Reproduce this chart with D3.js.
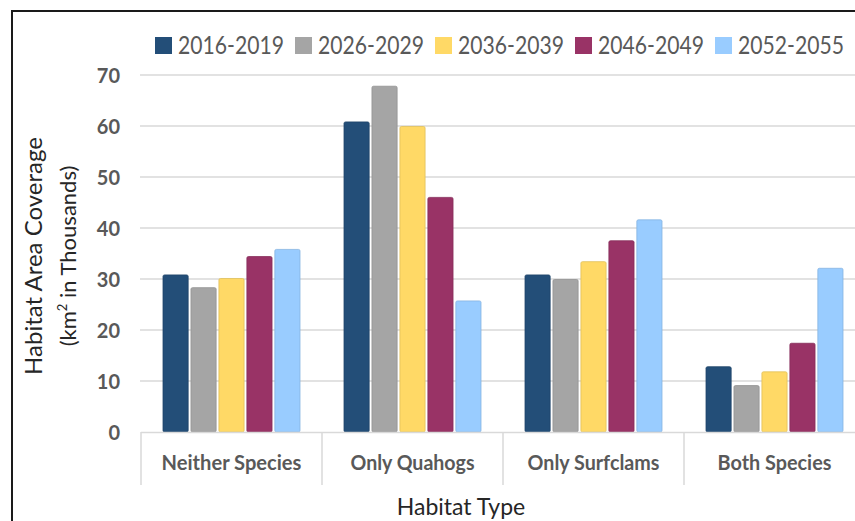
<!DOCTYPE html>
<html>
<head>
<meta charset="utf-8">
<script src="https://cdn.jsdelivr.net/npm/d3@7"></script>
<style>
  html, body { margin: 0; padding: 0; background: #fff; }
  svg { display: block; }
</style>
</head>
<body>
<svg id="chart" width="855" height="521"></svg>
<script>
// Habitat area coverage by habitat type and period
const categories = ["Neither Species", "Only Quahogs", "Only Surfclams", "Both Species"];
const periods = ["2016-2019", "2026-2029", "2036-2039", "2046-2049", "2052-2055"];
const colors = ["#234e78", "#a5a5a5", "#ffd966", "#993366", "#99ccff"];
const values2016 = [30.8, 60.8, 30.8, 12.8];
const values2026 = [28.3, 67.8, 29.9, 9.1];
const values2036 = [30.1, 59.9, 33.4, 11.8];
const values2046 = [34.4, 46.0, 37.5, 17.4];
const values2052 = [35.8, 25.7, 41.6, 32.1];
const yTicks = [0, 10, 20, 30, 40, 50, 60, 70];

const seriesValues = [values2016, values2026, values2036, values2046, values2052];

const FONT = "Lato, 'Open Sans', sans-serif";
const svg = d3.select("#chart");
const W = 855;

// squeeze a text horizontally (around its anchor) to a target width
function condense(sel, widthOf) {
  sel.each(function(d, i) {
    const t = d3.select(this);
    const x = +t.attr("x") || 0, yy = +t.attr("y") || 0;
    const target = typeof widthOf === "function" ? widthOf(d, i) : widthOf;
    const natural = this.getComputedTextLength();
    const s = Math.min(1, target / natural);
    t.attr("x", null).attr("y", null)
     .attr("transform", `translate(${x},${yy}) scale(${s},1)`);
  });
}

// outer frame (runs past the right and bottom edges)
svg.append("rect")
  .attr("x", 12).attr("y", 11)
  .attr("width", 900).attr("height", 600)
  .attr("fill", "#fff")
  .attr("stroke", "#1a1a1a").attr("stroke-width", 2);

const plotLeft = 141, plotRight = 865;
const y = d3.scaleLinear().domain([0, 70]).range([432, 75]);
const x0 = d3.scaleBand().domain(categories).range([plotLeft, plotRight]).padding(0);
const x1 = d3.scaleBand().domain(periods).range([22, 159]).paddingInner(0.1);

// gridlines
svg.append("g")
  .selectAll("line")
  .data(yTicks.filter(t => t > 0))
  .join("line")
  .attr("x1", plotLeft - 1).attr("x2", W)
  .attr("y1", d => y(d)).attr("y2", d => y(d))
  .attr("stroke", "#d9d9d9").attr("stroke-width", 1.5);

// y tick labels
const yAxis = d3.axisLeft(y).tickValues(yTicks).tickSize(0).tickPadding(0);
const gy = svg.append("g").attr("transform", "translate(120,0)").call(yAxis);
gy.select(".domain").remove();
gy.selectAll("text")
  .attr("font-family", FONT)
  .attr("font-weight", "bold")
  .attr("font-size", 20)
  .attr("fill", "#595959")
  .attr("dy", "0.36em");

// bars
const groups = svg.append("g")
  .selectAll("g")
  .data(categories)
  .join("g")
  .attr("transform", d => `translate(${x0(d)},0)`);

groups.selectAll("rect")
  .data((c, ci) => periods.map((p, pi) => ({ period: p, value: seriesValues[pi][ci], color: colors[pi] })))
  .join("rect")
  .attr("x", d => x1(d.period))
  .attr("width", x1.bandwidth())
  .attr("y", d => y(d.value))
  .attr("height", d => y(0) - y(d.value))
  .attr("fill", d => d.color)
  .attr("stroke", d => d3.color(d.color).darker(0.35))
  .attr("stroke-width", 0.8)
  .attr("rx", 1.5);

// category axis
const xAxis = d3.axisBottom(x0).tickSize(0).tickPadding(0);
const gx = svg.append("g").attr("transform", "translate(0,432)").call(xAxis);
gx.select(".domain").remove();
const catWidths = { "Neither Species": 140, "Only Quahogs": 124, "Only Surfclams": 132, "Both Species": 114 };
gx.selectAll(".tick text")
  .attr("font-family", FONT)
  .attr("font-weight", "bold")
  .attr("font-size", 21)
  .attr("fill", "#595959")
  .attr("dy", null)
  .attr("y", 38)
  .call(condense, d => catWidths[d]);

svg.append("line")
  .attr("x1", plotLeft).attr("x2", W)
  .attr("y1", 432.5).attr("y2", 432.5)
  .attr("stroke", "#d9d9d9").attr("stroke-width", 1.5);

svg.append("g")
  .selectAll("line")
  .data(categories)
  .join("line")
  .attr("x1", d => x0(d)).attr("x2", d => x0(d))
  .attr("y1", 432).attr("y2", 485)
  .attr("stroke", "#d9d9d9").attr("stroke-width", 1.5);

// axis titles
svg.append("text")
  .attr("x", 461).attr("y", 515)
  .attr("text-anchor", "middle")
  .attr("font-family", FONT)
  .attr("font-size", 23)
  .attr("fill", "#262626")
  .text("Habitat Type")
  .call(condense, 132);

const yTitle = svg.append("g").attr("transform", "translate(0,256) rotate(-90)");
yTitle.append("text")
  .attr("x", 0).attr("y", 42)
  .attr("text-anchor", "middle")
  .attr("font-family", FONT)
  .attr("font-size", 24)
  .attr("fill", "#262626")
  .text("Habitat Area Coverage")
  .call(condense, 240);
const l2 = yTitle.append("text")
  .attr("x", 0).attr("y", 76)
  .attr("text-anchor", "middle")
  .attr("font-family", FONT)
  .attr("font-size", 22)
  .attr("fill", "#262626");
l2.append("tspan").text("(km");
l2.append("tspan").attr("font-size", 13).attr("dy", -9).text("2");
l2.append("tspan").attr("dy", 9).text(" in Thousands)");
l2.call(condense, 196);

// legend
const legend = svg.append("g")
  .selectAll("g")
  .data(periods)
  .join("g")
  .attr("transform", (d, i) => `translate(${155 + i * 140},37)`);
legend.append("rect")
  .attr("width", 17).attr("height", 17)
  .attr("fill", (d, i) => colors[i]);
legend.append("text")
  .attr("x", 23).attr("y", 17)
  .attr("font-family", FONT)
  .attr("font-size", 25)
  .attr("fill", "#595959")
  .text(d => d)
  .call(condense, 106);
</script>
</body>
</html>
